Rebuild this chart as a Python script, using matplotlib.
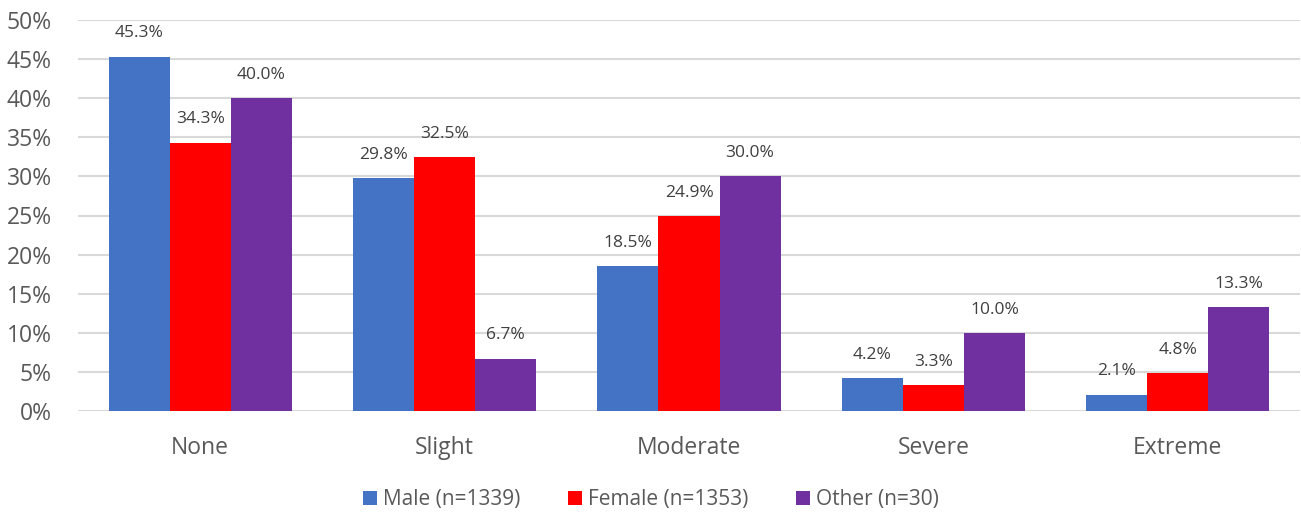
import matplotlib
matplotlib.use("Agg")
import matplotlib.pyplot as plt
import numpy as np

categories = ["None", "Slight", "Moderate", "Severe", "Extreme"]
series_names = ["Male (n=1339)", "Female (n=1353)", "Other (n=30)"]
male = [45.3, 29.8, 18.5, 4.2, 2.1]
female = [34.3, 32.5, 24.9, 3.3, 4.8]
other = [40.0, 6.7, 30.0, 10.0, 13.3]
colors = ["#4472C4", "#FF0000", "#7030A0"]
yticks = [0, 5, 10, 15, 20, 25, 30, 35, 40, 45, 50]

plt.rcParams["font.family"] = ["Open Sans", "DejaVu Sans"]
text_color = "#595959"

fig = plt.figure(figsize=(13.01, 5.17), dpi=100)
ax = fig.add_axes([78 / 1301, (517 - 411) / 517, (1300 - 78) / 1301, (411 - 20) / 517])

x = np.arange(len(categories))
width = 0.25
for i, (vals, name, col) in enumerate(zip([male, female, other], series_names, colors)):
    pos = x + (i - 1) * width
    bars = ax.bar(pos, vals, width, color=col, label=name, zorder=3)
    for b, v in zip(bars, vals):
        ax.annotate(f"{v:.1f}%", (b.get_x() + b.get_width() / 2, v),
                    xytext=(0, 11), textcoords="offset points",
                    ha="center", va="bottom", fontsize=12.5, color="#404040")

ax.set_xlim(-0.5, len(categories) - 0.5)
ax.set_ylim(0, 50)
ax.set_yticks(yticks)
ax.set_yticklabels([f"{t}%" for t in yticks])
ax.set_xticks(x)
ax.set_xticklabels(categories)
ax.grid(axis="y", color="#D9D9D9", linewidth=1.5, zorder=0)
for s in ax.spines.values():
    s.set_visible(False)
ax.tick_params(axis="both", length=0, labelsize=16.5, colors=text_color)
ax.tick_params(axis="x", pad=18)
ax.tick_params(axis="y", pad=19)

leg = fig.legend(loc="center", bbox_to_anchor=(651 / 1301, 1 - 500 / 517), ncol=3,
                 frameon=False, fontsize=15, handlelength=0.65, handleheight=0.65,
                 handletextpad=0.3, columnspacing=2.3)
for t in leg.get_texts():
    t.set_color(text_color)

fig.savefig("out.png", dpi=100)
